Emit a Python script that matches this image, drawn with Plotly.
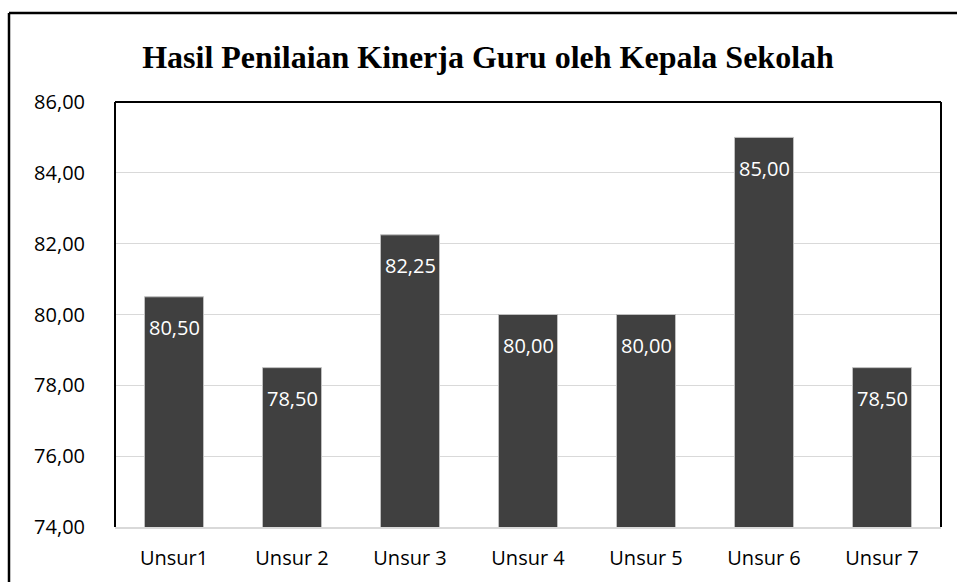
import plotly.graph_objects as go

categories = ["Unsur1", "Unsur 2", "Unsur 3", "Unsur 4", "Unsur 5", "Unsur 6", "Unsur 7"]
values = [80.50, 78.50, 82.25, 80.00, 80.00, 85.00, 78.50]
title_text = "Hasil Penilaian Kinerja Guru oleh Kepala Sekolah"
y_ticks = [74, 76, 78, 80, 82, 84, 86]

font_main = "Open Sans"

fig = go.Figure()
fig.add_trace(go.Bar(
    x=categories, y=values, base=0,
    marker=dict(color="#404040", line=dict(color="#bfbfbf", width=1)),
    width=0.5,
    hoverinfo="x+y",
))

for c, v in zip(categories, values):
    fig.add_annotation(
        x=c, y=v, yshift=-31, text=f"{v:.2f}".replace(".", ","),
        showarrow=False, font=dict(family=font_main, size=20, color="white"),
        xref="x", yref="y",
    )

fig.update_layout(
    width=957, height=582,
    margin=dict(l=115, r=16, t=102, b=55),
    paper_bgcolor="white", plot_bgcolor="white",
    separators=",.",
    showlegend=False,
    bargap=0.5,
    title=dict(
        text=title_text, x=488 / 957, xref="container", xanchor="center",
        y=1 - 57 / 582, yref="container", yanchor="middle",
        font=dict(family="Liberation Serif", size=32, color="black", weight="bold"),
    ),
    xaxis=dict(
        showline=True, linecolor="#d9d9d9", linewidth=1.5,
        ticks="", showgrid=False, ticklabelstandoff=12,
        tickfont=dict(family=font_main, size=20, color="#000000"),
    ),
    yaxis=dict(
        range=[74, 86], tickvals=y_ticks, tickformat=".2f",
        showgrid=True, gridcolor="#d9d9d9", gridwidth=1,
        showline=False, zeroline=False, ticks="",
        ticklabelstandoff=29,
        tickfont=dict(family=font_main, size=20, color="#000000"),
    ),
    shapes=[
        # plot area border (left, top, right)
        dict(type="line", xref="paper", yref="paper", x0=0, x1=0, y0=0, y1=1,
             line=dict(color="black", width=2)),
        dict(type="line", xref="paper", yref="paper", x0=0, x1=1, y0=1, y1=1,
             line=dict(color="black", width=2)),
        dict(type="line", xref="paper", yref="paper", x0=1, x1=1, y0=0, y1=1,
             line=dict(color="black", width=2)),
        # outer chart border
        dict(type="line", xref="paper", yref="paper", x0=(9 - 115) / 826, x1=(9 - 115) / 826,
             y0=-0.2, y1=1 + (102 - 13) / 425, line=dict(color="black", width=2.5)),
        dict(type="line", xref="paper", yref="paper", x0=(9 - 115) / 826, x1=1.05,
             y0=1 + (102 - 13) / 425, y1=1 + (102 - 13) / 425, line=dict(color="black", width=2.5)),
    ],
)

fig.write_html("out.html", config={"displayModeBar": False},
               post_script="document.body.style.margin='0';document.body.style.overflow='hidden';")
